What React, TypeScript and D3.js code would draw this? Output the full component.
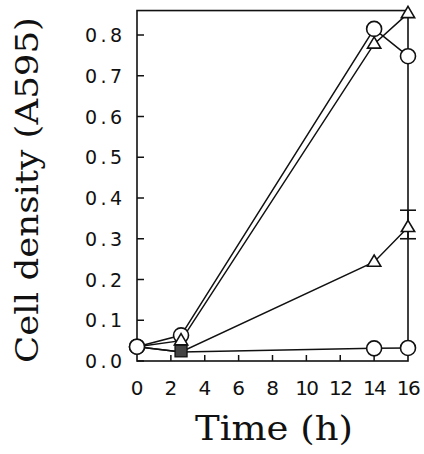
import React from "react";
import * as d3 from "d3";

const times = [0, 2.6, 14, 16];
const seriesA = [0.035, 0.063, 0.815, 0.748]; // open circles, high
const seriesB = [0.035, 0.05, 0.778, 0.853]; // open triangles, high
const seriesC = [0.035, 0.022, 0.243, 0.328]; // open triangles, mid
const seriesD = [0.035, 0.022, 0.031, 0.032]; // open circles, low
const errorC16 = [0.30, 0.37];
const squarePoint = { t: 2.6, v: 0.025 };
const xTicks = [0, 2, 4, 6, 8, 10, 12, 14, 16];
const yTicks = [0, 0.1, 0.2, 0.3, 0.4, 0.5, 0.6, 0.7, 0.8];

const W = 424;
const H = 454;

export default function App() {
  const x = d3.scaleLinear().domain([0, 16]).range([137, 408]);
  const y = d3.scaleLinear().domain([0, 0.8]).range([361, 35]);
  const yTop = 0.86;
  const line = d3
    .line<number>()
    .x((_, i) => x(times[i]))
    .y((d) => y(d));

  const tri = (cx: number, cy: number, s = 7) =>
    `M${cx},${cy - s} L${cx + s * 0.95},${cy + s * 0.6} L${cx - s * 0.95},${cy + s * 0.6} Z`;

  const stroke = "#111";
  return (
    <svg
      width={W}
      height={H}
      style={{ position: "absolute", left: 0, top: 0, background: "#fff" }}
    >
      {/* frame */}
      <rect
        x={x(0)}
        y={y(yTop)}
        width={x(16) - x(0)}
        height={y(0) - y(yTop)}
        fill="none"
        stroke={stroke}
        strokeWidth={1.6}
      />
      {/* y ticks */}
      {yTicks.map((t) => (
        <g key={"y" + t}>
          <line x1={x(0)} x2={x(0) + 7} y1={y(t)} y2={y(t)} stroke={stroke} strokeWidth={1.5} />
          <text
            x={122}
            y={y(t)}
            textAnchor="end"
            dominantBaseline="central"
            fontFamily="'DejaVu Sans', sans-serif"
            fontSize={19}
            textLength={37}
            lengthAdjust="spacing"
            fill="#111"
          >
            {t.toFixed(1)}
          </text>
        </g>
      ))}
      {/* x ticks */}
      {xTicks.map((t) => (
        <g key={"x" + t}>
          {t > 0 && t < 16 && (
            <line x1={x(t)} x2={x(t)} y1={y(0)} y2={y(0) - 6} stroke={stroke} strokeWidth={1.5} />
          )}
          <text
            x={x(t)}
            y={388}
            textAnchor="middle"
            dominantBaseline="central"
            fontFamily="'DejaVu Sans', sans-serif"
            fontSize={20}
            letterSpacing={t >= 10 ? -1.5 : 0}
            fill="#111"
          >
            {t}
          </text>
        </g>
      ))}
      {/* lines */}
      {[seriesA, seriesB, seriesC, seriesD].map((s, i) => (
        <path key={"l" + i} d={line(s) || ""} fill="none" stroke={stroke} strokeWidth={1.5} />
      ))}
      {/* error bar */}
      <line x1={x(16)} x2={x(16)} y1={y(errorC16[0])} y2={y(errorC16[1])} stroke={stroke} strokeWidth={1.5} />
      {errorC16.map((e, i) => (
        <line key={"e" + i} x1={x(16) - 8} x2={x(16) + 8} y1={y(e)} y2={y(e)} stroke={stroke} strokeWidth={1.6} />
      ))}
      {/* square marker */}
      <rect
        x={x(squarePoint.t) - 6}
        y={y(squarePoint.v) - 6}
        width={12}
        height={12}
        fill="#444"
        stroke={stroke}
        strokeWidth={1.3}
      />
      {/* circles */}
      {[seriesD, seriesA].map((s, si) =>
        s.map((v, i) =>
          si === 0 && i === 1 ? null : (
            <circle
              key={"c" + si + i}
              cx={x(times[i])}
              cy={y(v)}
              r={7.5}
              fill="#fff"
              stroke={stroke}
              strokeWidth={1.6}
            />
          )
        )
      )}
      {/* triangles */}
      {[seriesC, seriesB].map((s, si) =>
        s.map((v, i) =>
          i === 0 || (si === 0 && i === 1) ? null : (
            <path
              key={"t" + si + i}
              d={tri(x(times[i]), y(v))}
              fill="#fff"
              stroke={stroke}
              strokeWidth={1.6}
            />
          )
        )
      )}
      {/* axis titles */}
      <text
        x={274}
        y={440}
        textAnchor="middle"
        fontFamily="'DejaVu Serif', serif"
        fontSize={33}
        textLength={158}
        lengthAdjust="spacingAndGlyphs"
        fill="#111"
      >
        Time (h)
      </text>
      <text
        transform={`translate(38,190) rotate(-90)`}
        textAnchor="middle"
        fontFamily="'DejaVu Serif', serif"
        fontSize={32}
        textLength={346}
        lengthAdjust="spacingAndGlyphs"
        fill="#111"
      >
        Cell density (A595)
      </text>
    </svg>
  );
}
